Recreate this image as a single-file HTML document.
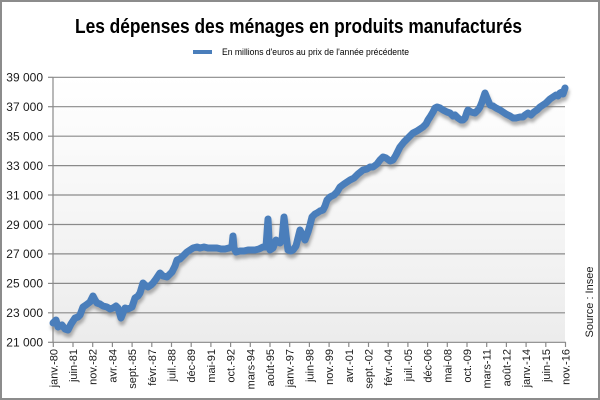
<!DOCTYPE html>
<html><head><meta charset="utf-8"><style>
html,body{margin:0;padding:0;background:#fff;}
svg{display:block;font-family:"Liberation Sans",sans-serif;}
</style></head><body>
<svg width="600" height="400" viewBox="0 0 600 400" xmlns="http://www.w3.org/2000/svg">
<defs>
<linearGradient id="bg" x1="0" y1="0" x2="0" y2="1">
<stop offset="0" stop-color="#ffffff"/><stop offset="1" stop-color="#ececec"/>
</linearGradient>
<filter id="blur" x="-5%" y="-5%" width="110%" height="110%"><feGaussianBlur stdDeviation="1.6"/></filter>
</defs>
<rect x="0" y="0" width="600" height="400" fill="#fff"/>
<rect x="53" y="77" width="512" height="266" fill="url(#bg)"/>
<rect x="1" y="1" width="598" height="398" fill="none" stroke="#8c8c8c" stroke-width="2"/>
<text x="75" y="33" font-size="20" font-weight="bold" fill="#000" textLength="447" lengthAdjust="spacingAndGlyphs">Les dépenses des ménages en produits manufacturés</text>
<line x1="193" y1="52" x2="212" y2="52" stroke="#4a7ebb" stroke-width="4"/>
<text x="222" y="55" font-size="9" fill="#000" textLength="187" lengthAdjust="spacingAndGlyphs">En millions d'euros au prix de l'année précédente</text>
<g stroke="#8a8a8a" stroke-width="1.2">
<line x1="53" y1="77.3" x2="565" y2="77.3"/>
<line x1="53" y1="106.7" x2="565" y2="106.7"/>
<line x1="53" y1="136.2" x2="565" y2="136.2"/>
<line x1="53" y1="165.6" x2="565" y2="165.6"/>
<line x1="53" y1="195" x2="565" y2="195"/>
<line x1="53" y1="224.5" x2="565" y2="224.5"/>
<line x1="53" y1="253.9" x2="565" y2="253.9"/>
<line x1="53" y1="283.4" x2="565" y2="283.4"/>
<line x1="53" y1="312.8" x2="565" y2="312.8"/>
<line x1="53" y1="342.3" x2="566" y2="342.3"/>
<line x1="53" y1="77" x2="53" y2="342.3"/>
<line x1="48" y1="77.3" x2="53" y2="77.3"/>
<line x1="48" y1="106.7" x2="53" y2="106.7"/>
<line x1="48" y1="136.2" x2="53" y2="136.2"/>
<line x1="48" y1="165.6" x2="53" y2="165.6"/>
<line x1="48" y1="195" x2="53" y2="195"/>
<line x1="48" y1="224.5" x2="53" y2="224.5"/>
<line x1="48" y1="253.9" x2="53" y2="253.9"/>
<line x1="48" y1="283.4" x2="53" y2="283.4"/>
<line x1="48" y1="312.8" x2="53" y2="312.8"/>
<line x1="48" y1="342.3" x2="53" y2="342.3"/>
</g>
<g stroke="#8a8a8a" stroke-width="1.2">
<line x1="53.3" y1="342" x2="53.3" y2="347"/><line x1="73" y1="342" x2="73" y2="347"/><line x1="92.7" y1="342" x2="92.7" y2="347"/><line x1="112.4" y1="342" x2="112.4" y2="347"/><line x1="132.1" y1="342" x2="132.1" y2="347"/><line x1="151.8" y1="342" x2="151.8" y2="347"/><line x1="171.5" y1="342" x2="171.5" y2="347"/><line x1="191.2" y1="342" x2="191.2" y2="347"/><line x1="210.9" y1="342" x2="210.9" y2="347"/><line x1="230.6" y1="342" x2="230.6" y2="347"/><line x1="250.3" y1="342" x2="250.3" y2="347"/><line x1="270" y1="342" x2="270" y2="347"/><line x1="289.7" y1="342" x2="289.7" y2="347"/><line x1="309.4" y1="342" x2="309.4" y2="347"/><line x1="329.1" y1="342" x2="329.1" y2="347"/><line x1="348.8" y1="342" x2="348.8" y2="347"/><line x1="368.5" y1="342" x2="368.5" y2="347"/><line x1="388.2" y1="342" x2="388.2" y2="347"/><line x1="407.9" y1="342" x2="407.9" y2="347"/><line x1="427.6" y1="342" x2="427.6" y2="347"/><line x1="447.3" y1="342" x2="447.3" y2="347"/><line x1="467" y1="342" x2="467" y2="347"/><line x1="486.7" y1="342" x2="486.7" y2="347"/><line x1="506.4" y1="342" x2="506.4" y2="347"/><line x1="526.1" y1="342" x2="526.1" y2="347"/><line x1="545.8" y1="342" x2="545.8" y2="347"/><line x1="565.5" y1="342" x2="565.5" y2="347"/>
</g>
<g font-size="12" fill="#1a1a1a" text-anchor="end">
<text x="43" y="81.5">39 000</text>
<text x="43" y="111">37 000</text>
<text x="43" y="140.5">35 000</text>
<text x="43" y="170">33 000</text>
<text x="43" y="199.3">31 000</text>
<text x="43" y="228.8">29 000</text>
<text x="43" y="258.2">27 000</text>
<text x="43" y="287.7">25 000</text>
<text x="43" y="317.1">23 000</text>
<text x="43" y="346.6">21 000</text>
</g>
<g font-size="11" fill="#1a1a1a" text-anchor="end">
<text transform="translate(57.3,349) rotate(-90)">janv.-80</text>
<text transform="translate(77,349) rotate(-90)">juin-81</text>
<text transform="translate(96.7,349) rotate(-90)">nov.-82</text>
<text transform="translate(116.4,349) rotate(-90)">avr.-84</text>
<text transform="translate(136.1,349) rotate(-90)">sept.-85</text>
<text transform="translate(155.8,349) rotate(-90)">févr.-87</text>
<text transform="translate(175.5,349) rotate(-90)">juil.-88</text>
<text transform="translate(195.2,349) rotate(-90)">déc-89</text>
<text transform="translate(214.9,349) rotate(-90)">mai-91</text>
<text transform="translate(234.6,349) rotate(-90)">oct.-92</text>
<text transform="translate(254.3,349) rotate(-90)">mars-94</text>
<text transform="translate(274,349) rotate(-90)">août-95</text>
<text transform="translate(293.7,349) rotate(-90)">janv.-97</text>
<text transform="translate(313.4,349) rotate(-90)">juin-98</text>
<text transform="translate(333.1,349) rotate(-90)">nov.-99</text>
<text transform="translate(352.8,349) rotate(-90)">avr.-01</text>
<text transform="translate(372.5,349) rotate(-90)">sept.-02</text>
<text transform="translate(392.2,349) rotate(-90)">févr.-04</text>
<text transform="translate(411.9,349) rotate(-90)">juil.-05</text>
<text transform="translate(431.6,349) rotate(-90)">déc-06</text>
<text transform="translate(451.3,349) rotate(-90)">mai-08</text>
<text transform="translate(471,349) rotate(-90)">oct.-09</text>
<text transform="translate(490.7,349) rotate(-90)">mars-11</text>
<text transform="translate(510.4,349) rotate(-90)">août-12</text>
<text transform="translate(530.1,349) rotate(-90)">janv.-14</text>
<text transform="translate(549.8,349) rotate(-90)">juin-15</text>
<text transform="translate(569.5,349) rotate(-90)">nov.-16</text>
</g>
<text transform="translate(593,302) rotate(-90)" font-size="11" fill="#1a1a1a" text-anchor="middle">Source : Insee</text>
<g fill="none" stroke-linejoin="round" stroke-linecap="round">
<polyline transform="translate(1,4)" filter="url(#blur)" stroke="#7a7a7a" stroke-opacity="0.6" stroke-width="7" points="53,323 56,320 58,327 62,325 65,329 68,330 71,324 75,318 78,317 80,315 83,307 86,305 90,302 93,296 95,300 97,303 100,304 103,306 107,307 110,309 113,308 116,306 118,308 121,318 123,313 125,308 128,309 132,307 135,298 138,296 140,293 143,283 145,285 148,287 151,285 153,283 156,279 160,273 163,276 167,277 170,274 172,272 175,266 177,260 180,259 182,257 185,254 187,252 190,250 193,248 197,247 200,248 204,247 208,248 212,248 217,248 221,249 225,249 229,248 232,246 233,236 234,248 236,252 240,251 244,251 248,250 251,250 255,250 259,249 263,247 266,247 268,219 269,240 270,250 273,248 276,240 278,242 280,243 282,240 284,217 286,235 288,250 291,251 293,250 296,246 298,238 300,230 302,234 305,240 308,232 310,225 312,217 315,214 317,213 320,211 323,210 325,206 327,200 330,197 334,195 337,192 340,187 344,184 347,182 350,180 354,178 358,174 363,170 367,169 370,167 373,167 377,164 380,160 383,157 386,158 390,161 393,160 396,155 400,147 404,142 408,138 413,133 417,131 420,129 423,127 426,124 428,120 430,117 433,112 435,108 437,107 440,108 443,110 447,112 450,113 453,116 455,115 458,118 461,120 463,120 465,118 467,112 468,110 471,112 475,113 478,110 480,107 482,102 484,96 485,93 487,98 490,105 493,106 496,108 500,110 503,112 506,114 510,116 513,118 516,118 520,117 523,117 525,115 528,113 531,115 534,112 537,110 540,107 543,105 546,103 550,99 553,97 556,95 558,96 560,93 562,92 563,94 565,88"/>
<polyline stroke="#4a7ebb" stroke-width="7" points="53,323 56,320 58,327 62,325 65,329 68,330 71,324 75,318 78,317 80,315 83,307 86,305 90,302 93,296 95,300 97,303 100,304 103,306 107,307 110,309 113,308 116,306 118,308 121,318 123,313 125,308 128,309 132,307 135,298 138,296 140,293 143,283 145,285 148,287 151,285 153,283 156,279 160,273 163,276 167,277 170,274 172,272 175,266 177,260 180,259 182,257 185,254 187,252 190,250 193,248 197,247 200,248 204,247 208,248 212,248 217,248 221,249 225,249 229,248 232,246 233,236 234,248 236,252 240,251 244,251 248,250 251,250 255,250 259,249 263,247 266,247 268,219 269,240 270,250 273,248 276,240 278,242 280,243 282,240 284,217 286,235 288,250 291,251 293,250 296,246 298,238 300,230 302,234 305,240 308,232 310,225 312,217 315,214 317,213 320,211 323,210 325,206 327,200 330,197 334,195 337,192 340,187 344,184 347,182 350,180 354,178 358,174 363,170 367,169 370,167 373,167 377,164 380,160 383,157 386,158 390,161 393,160 396,155 400,147 404,142 408,138 413,133 417,131 420,129 423,127 426,124 428,120 430,117 433,112 435,108 437,107 440,108 443,110 447,112 450,113 453,116 455,115 458,118 461,120 463,120 465,118 467,112 468,110 471,112 475,113 478,110 480,107 482,102 484,96 485,93 487,98 490,105 493,106 496,108 500,110 503,112 506,114 510,116 513,118 516,118 520,117 523,117 525,115 528,113 531,115 534,112 537,110 540,107 543,105 546,103 550,99 553,97 556,95 558,96 560,93 562,92 563,94 565,88"/>
</g>
</svg>
</body></html>
